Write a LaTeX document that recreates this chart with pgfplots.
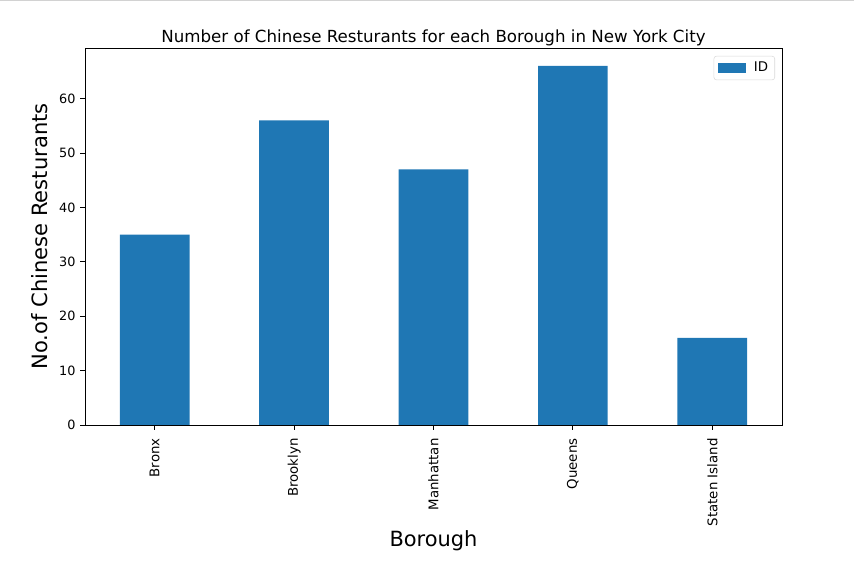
\documentclass[border=0pt]{standalone}
\usepackage{pgfplots}
\pgfplotsset{compat=1.18}
\usepackage{fontspec}
\setmainfont{DejaVu Sans}
\definecolor{mplblue}{HTML}{1F77B4}
\begin{document}
\begin{tikzpicture}[x=0.75pt,y=0.75pt]
\path[use as bounding box] (0,0) rectangle (854,570);
\draw[gray!35, line width=0.75pt] (0,569.4) -- (854,569.4);
\begin{axis}[
  at={(63.75pt,108.75pt)}, anchor=south west,
  scale only axis, width=522.75pt, height=282.75pt,
  xmin=-0.5, xmax=4.5, ymin=0, ymax=69.3,
  ybar, bar width=0.5,
  xtick={0,1,2,3,4},
  xticklabels={Bronx,Brooklyn,Manhattan,Queens,Staten Island},
  ytick={0,10,20,30,40,50,60},
  tick align=outside, tick pos=left,
  major tick length=3.6pt,
  every tick/.style={black, line width=0.6pt},
  axis line style={line width=0.6pt},
  /pgf/number format/assume math mode=true,
  x tick label style={rotate=90, anchor=east, inner xsep=6.3pt, font=\fontsize{10}{11}\selectfont},
  y tick label style={font=\fontsize{9.6}{10}\selectfont},
  title={Number of Chinese Resturants for each Borough in New York City},
  title style={at={(axis description cs:0.5,0.9921)}, anchor=base, font=\fontsize{12.5}{14}\selectfont},
  xlabel={Borough},
  ylabel={No.of Chinese Resturants},
  every axis x label/.style={at={(axis description cs:0.5,-0.3077)}, anchor=center, font=\fontsize{15.7}{18}\selectfont},
  every axis y label/.style={at={(axis description cs:-0.0646,0.5)}, rotate=90, anchor=center, font=\fontsize{15.8}{18}\selectfont},
  legend style={at={(0.99,0.979)}, anchor=north east, draw=black!15, rounded corners=2pt, font=\fontsize{10}{11}\selectfont, inner xsep=3pt, inner ysep=2.5pt},
  legend cell align=left,
  legend image code/.code={\fill[mplblue, sharp corners] (0pt,-3.75pt) rectangle (21pt,3.75pt);},
]
\addplot[fill=mplblue, draw=none] coordinates {(0,35) (1,56) (2,47) (3,66) (4,16)};
\addlegendentry{\hspace{4pt}ID}
\end{axis}
\end{tikzpicture}
\end{document}
